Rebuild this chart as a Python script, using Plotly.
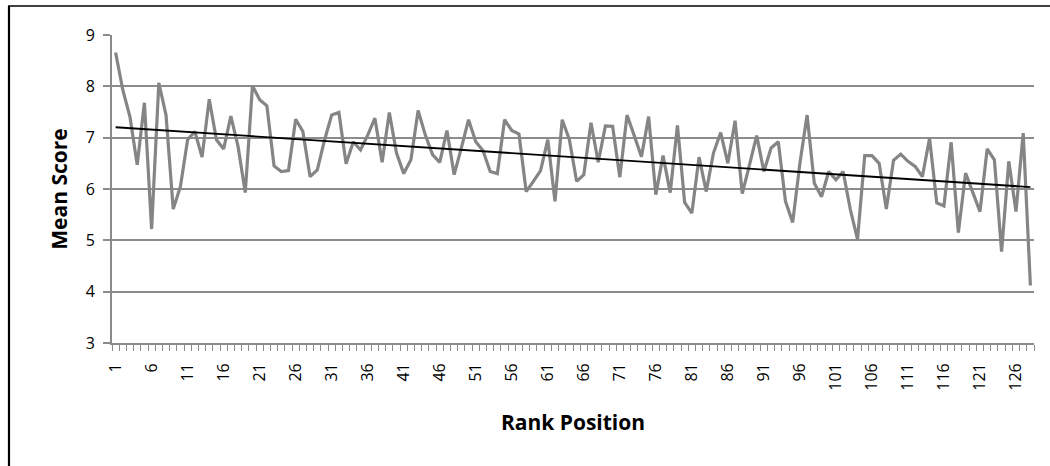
import numpy as np
import plotly.graph_objects as go

rank = list(range(1, 129))
mean_score = [
    8.66, 7.93, 7.40, 6.47, 7.68, 5.22, 8.07, 7.44, 5.61, 6.05,
    6.96, 7.12, 6.62, 7.75, 6.96, 6.78, 7.42, 6.83, 5.93, 8.01,
    7.74, 7.62, 6.45, 6.34, 6.36, 7.36, 7.12, 6.24, 6.37, 6.95,
    7.44, 7.49, 6.49, 6.92, 6.76, 7.05, 7.38, 6.52, 7.49, 6.70,
    6.30, 6.57, 7.53, 7.05, 6.67, 6.52, 7.14, 6.28, 6.80, 7.35,
    6.92, 6.75, 6.34, 6.30, 7.35, 7.14, 7.07, 5.95, 6.15, 6.36,
    6.96, 5.76, 7.35, 6.96, 6.15, 6.28, 7.29, 6.52, 7.23, 7.22,
    6.23, 7.44, 7.04, 6.63, 7.41, 5.89, 6.65, 5.93, 7.24, 5.74,
    5.53, 6.62, 5.95, 6.70, 7.10, 6.50, 7.33, 5.91, 6.47, 7.04,
    6.34, 6.80, 6.92, 5.76, 5.35, 6.50, 7.44, 6.11, 5.85, 6.34,
    6.18, 6.34, 5.60, 5.02, 6.65, 6.65, 6.50, 5.61, 6.56, 6.68,
    6.54, 6.44, 6.24, 6.99, 5.73, 5.67, 6.91, 5.15, 6.31, 5.95,
    5.56, 6.78, 6.57, 4.78, 6.54, 5.56, 7.09, 4.12,
]
tick_labels = [str(v) for v in range(1, 129, 5)]

# linear trend line fitted to the data
coef = np.polyfit(rank, mean_score, 1)
trend = np.polyval(coef, rank)

font_family = "Open Sans, Liberation Sans, sans-serif"

fig = go.Figure()
fig.add_trace(go.Scatter(
    x=rank, y=mean_score, mode="lines",
    line=dict(color="#858585", width=3.2),
    showlegend=False, hoverinfo="skip",
))
fig.add_trace(go.Scatter(
    x=rank, y=trend, mode="lines",
    line=dict(color="#000000", width=1.8),
    showlegend=False, hoverinfo="skip",
))

PL, PR, PT, PB = 112, 1034, 35, 343
pw, ph = PR - PL, PB - PT


def px_x(v):
    return (v - PL) / pw


def px_y(v):
    return (PB - v) / ph


fig.update_layout(
    width=1050, height=466,
    margin=dict(l=PL, r=1050 - PR, t=PT, b=466 - PB),
    paper_bgcolor="white", plot_bgcolor="white",
    font=dict(family=font_family, size=15, color="#000000"),
    xaxis=dict(
        range=[0.5, 128.5],
        tickmode="array",
        tickvals=list(range(1, 129, 5)),
        ticktext=tick_labels,
        tickangle=-90,
        ticks="",
        ticklabelstandoff=12,
        showgrid=False,
        showline=True, linecolor="#8a8a8a", linewidth=1.8,
        zeroline=False,
        tickfont=dict(size=16),
        minor=dict(tick0=0.5, dtick=1, ticks="outside", ticklen=6,
                   tickcolor="#8a8a8a", tickwidth=1.2, showgrid=False),
        title=dict(text="<b>Rank Position</b>", font=dict(size=21), standoff=26),
    ),
    yaxis=dict(
        range=[3, 9],
        dtick=1,
        showgrid=True, gridcolor="#8c8c8c", gridwidth=1.8,
        showline=True, linecolor="#8a8a8a", linewidth=1.8,
        zeroline=False,
        ticks="outside", ticklen=7, tickcolor="#8c8c8c", tickwidth=1.8,
        ticklabelstandoff=5,
        tickfont=dict(size=16),
        title=dict(text="<b>Mean Score</b>", font=dict(size=21), standoff=12),
    ),
    shapes=[
        dict(type="line", xref="paper", yref="paper",
             x0=px_x(9), x1=px_x(9), y0=px_y(6), y1=px_y(480),
             line=dict(color="#000000", width=2.2)),
        dict(type="line", xref="paper", yref="paper",
             x0=px_x(8), x1=px_x(1060), y0=px_y(6), y1=px_y(6),
             line=dict(color="#000000", width=1.5)),
    ],
)

fig.write_html("out.html", config={"displayModeBar": False},
               post_script="document.body.style.margin='0';")
